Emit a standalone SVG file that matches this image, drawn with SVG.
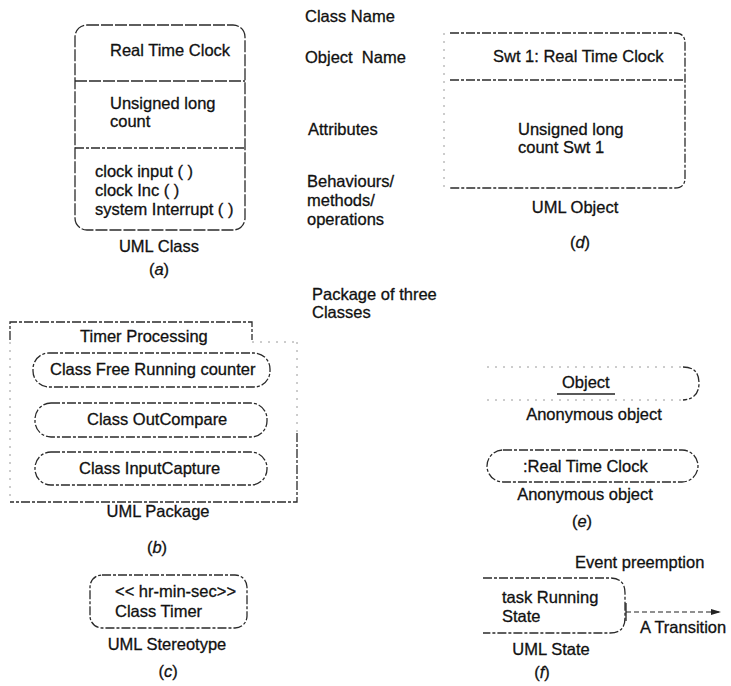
<svg xmlns="http://www.w3.org/2000/svg" width="731" height="686" viewBox="0 0 731 686">
<style>
text{font-family:"Liberation Sans",Arial,sans-serif;font-size:16.5px;fill:#111;stroke:#111;stroke-width:0.3}
.c{text-anchor:middle}
.i{font-style:italic}
.b{fill:none;stroke:#2a2a2a;stroke-width:1.3;stroke-dasharray:9 2 3 2}
.s{fill:none;stroke:#2a2a2a;stroke-width:1.3;stroke-dasharray:12 2}
.f{fill:none;stroke:#9a9a9a;stroke-width:1;stroke-dasharray:2 6}
</style>
<defs>
<marker id="ah" markerWidth="10" markerHeight="8" refX="9" refY="4" orient="auto" markerUnits="userSpaceOnUse">
<path d="M0,1 L10,4 L0,7 Z" fill="#222"/>
</marker>
</defs>
<rect width="731" height="686" fill="#fff"/>

<g id="uml-class">
<rect class="s" x="75" y="25" width="170" height="205" rx="12"/>
<line class="s" x1="75" y1="81" x2="245" y2="81"/>
<line class="b" x1="75" y1="148" x2="245" y2="148"/>
<text x="110" y="56">Real Time Clock</text>
<text x="110" y="109">Unsigned long</text>
<text x="110" y="127">count</text>
<text x="95" y="177">clock input ( )</text>
<text x="95" y="196">clock Inc ( )</text>
<text x="95" y="215">system Interrupt ( )</text>
<text class="c" x="159" y="252">UML Class</text>
<text class="c" x="159" y="275">(<tspan class="i">a</tspan>)</text>
</g>

<g id="labels">
<text x="305" y="22">Class Name</text>
<text x="305" y="63" xml:space="preserve">Object  Name</text>
<text x="308" y="135">Attributes</text>
<text x="307" y="187">Behaviours/</text>
<text x="307" y="206">methods/</text>
<text x="307" y="225">operations</text>
<text x="312" y="300">Package of three</text>
<text x="312" y="318">Classes</text>
</g>

<g id="uml-object">
<path class="b" d="M450,33 H675 Q685,33 685,43 V178 Q685,188 675,188 H450"/>
<line class="f" x1="444" y1="33" x2="444" y2="188"/>
<line class="b" x1="450" y1="80" x2="685" y2="80"/>
<text x="493" y="62">Swt 1: Real Time Clock</text>
<text x="518" y="135">Unsigned long</text>
<text x="518" y="153">count Swt 1</text>
<text class="c" x="575" y="213">UML Object</text>
<text class="c" x="580" y="248">(<tspan class="i">d</tspan>)</text>
</g>

<g id="uml-package">
<path class="b" d="M10,340 V322 H252 V340"/>
<path class="f" d="M252,342 H297"/>
<path class="b" d="M297,433 V502 H10"/>
<line class="f" x1="10" y1="342" x2="10" y2="500"/>
<line class="f" x1="297" y1="342" x2="297" y2="433"/>
<text x="80" y="342">Timer Processing</text>
<g id="class-free-running">
<rect class="b" x="33" y="353" width="237" height="34" rx="16"/>
<text x="50" y="375">Class Free Running counter</text>
</g>
<g id="class-outcompare">
<rect class="b" x="35" y="403" width="232" height="34" rx="16"/>
<text x="87" y="425">Class OutCompare</text>
</g>
<g id="class-inputcapture">
<rect class="b" x="35" y="452" width="232" height="33" rx="16"/>
<text x="79" y="474">Class InputCapture</text>
</g>
<text class="c" x="158" y="517">UML Package</text>
<text class="c" x="157" y="553">(<tspan class="i">b</tspan>)</text>
</g>

<g id="uml-stereotype">
<rect class="b" x="90" y="575" width="157" height="53" rx="12"/>
<text x="115" y="597">&lt;&lt; hr-min-sec&gt;&gt;</text>
<text x="115" y="617">Class Timer</text>
<text class="c" x="167" y="650">UML Stereotype</text>
<text class="c" x="168" y="677">(<tspan class="i">c</tspan>)</text>
</g>

<g id="anonymous-object-1">
<path class="f" d="M487,367 H683"/>
<path class="f" d="M487,400 H683"/>
<path class="b" d="M683,367 Q699,367 699,383 Q699,399 683,400"/>
<text x="562" y="388">Object</text>
<line x1="557" y1="394" x2="615" y2="394" stroke="#222" stroke-width="1.5"/>
<text class="c" x="594" y="420">Anonymous object</text>
</g>

<g id="anonymous-object-2">
<rect class="b" x="487" y="450" width="211" height="32" rx="16"/>
<text x="523" y="472">:Real Time Clock</text>
<text class="c" x="585" y="500">Anonymous object</text>
<text class="c" x="582" y="527">(<tspan class="i">e</tspan>)</text>
</g>

<g id="uml-state">
<text x="575" y="568">Event preemption</text>
<path class="b" d="M483,578 H610 Q625,578 625,593 V618 Q625,633 610,633 H483"/>
<text x="502" y="603">task Running</text>
<text x="502" y="622">State</text>
<text class="c" x="551" y="655">UML State</text>
<text class="c" x="542" y="678">(<tspan class="i">f</tspan>)</text>
</g>

<g id="connectors">
<line x1="626" y1="603" x2="626" y2="621" stroke="#222" stroke-width="1.3"/>
<line x1="626" y1="612" x2="720" y2="612" stroke="#222" stroke-width="1.2" stroke-dasharray="5 3" marker-end="url(#ah)"/>
<text x="640" y="633">A Transition</text>
</g>
</svg>
